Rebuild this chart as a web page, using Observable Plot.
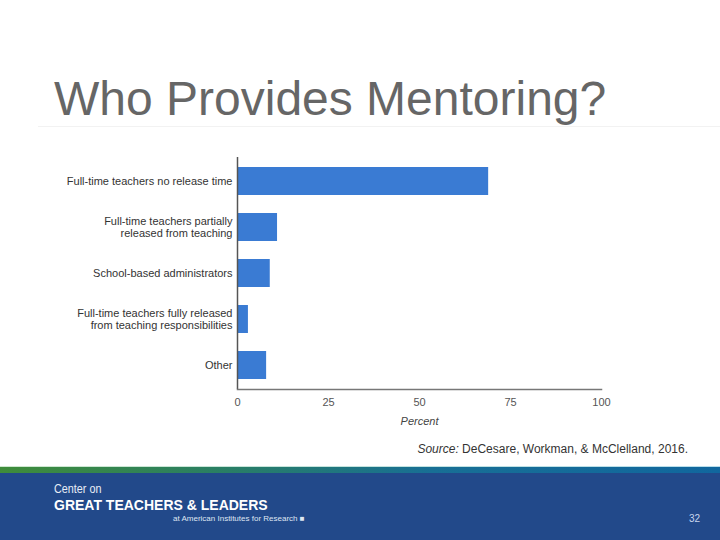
<!DOCTYPE html>
<html>
<head>
<meta charset="utf-8">
<script src="https://cdn.jsdelivr.net/npm/d3@7"></script>
<script src="https://cdn.jsdelivr.net/npm/@observablehq/plot@0.6"></script>
<style>
  html, body { margin: 0; padding: 0; background: #fff; }
  #slide { position: relative; width: 720px; height: 540px; overflow: hidden; font-family: "Liberation Sans", Arial, sans-serif; }
  #title { position: absolute; left: 54px; top: 75px; font-size: 48px; color: #666; white-space: nowrap; line-height: 1; }
  #rule { position: absolute; left: 38px; top: 126px; width: 682px; height: 1px; background: #f2f2f2; }
  #chart { position: absolute; left: 0; top: 140px; }
  #source { position: absolute; right: 32px; top: 442px; font-size: 12px; color: #333; white-space: nowrap; }
  #footer { position: absolute; left: 0; top: 466px; width: 720px; height: 74px; background: #22498a; }
  #pale { position: absolute; left: 0; top: 0; width: 720px; height: 1px; background: linear-gradient(to right, #cfe8cf, #b9deec); }
  #strip { position: absolute; left: 0; top: 1px; width: 720px; height: 6px; background: linear-gradient(to right, #3f8c3a 0%, #2a7f63 30%, #186f95 60%, #11679e 100%); }
  #center { position: absolute; left: 54px; top: 16px; font-size: 12px; color: #e8edf6; transform: scaleX(0.9); transform-origin: left; }
  #gtl { position: absolute; left: 54px; top: 31px; font-size: 14px; font-weight: bold; color: #fff; white-space: nowrap; }
  #air { position: absolute; left: 173px; top: 48px; font-size: 8px; color: #dfe6f2; white-space: nowrap; }
  #page { position: absolute; left: 689px; top: 47px; font-size: 10px; color: #c9d6ee; }
</style>
</head>
<body>
<div id="slide">
  <div id="title">Who Provides Mentoring?</div>
  <div id="rule"></div>
  <div id="chart"></div>
  <div id="source"><i>Source:</i> DeCesare, Workman, &amp; McClelland, 2016.</div>
  <div id="footer">
    <div id="pale"></div>
    <div id="strip"></div>
    <div id="center">Center on</div>
    <div id="gtl">GREAT TEACHERS &amp; LEADERS</div>
    <div id="air">at American Institutes for Research &#9632;</div>
    <div id="page">32</div>
  </div>
</div>
<script>
const categories = [
  "Full-time teachers no release time",
  "Full-time teachers partially\nreleased from teaching",
  "School-based administrators",
  "Full-time teachers fully released\nfrom teaching responsibilities",
  "Other"
];
const values = [69, 11, 9, 3, 8];
const xTicks = [0, 25, 50, 75, 100];
const xLabel = "Percent";

const data = categories.map((c, i) => ({category: c, value: values[i]}));

const plot = Plot.plot({
  width: 720,
  height: 300,
  marginLeft: 237,
  marginRight: 119,
  marginTop: 17,
  marginBottom: 51,
  style: {fontFamily: "'Liberation Sans', Arial, sans-serif", fontSize: "11px", color: "#333", background: "transparent"},
  x: {domain: [0, 100]},
  y: {domain: categories, paddingInner: 0.39, paddingOuter: 0.19},
  marks: [
    Plot.barX(data, {x: "value", y: "category", fill: "#3a7bd3"}),
    Plot.axisY({tickSize: 0, tickPadding: 5, label: null, fill: "#333", lineHeight: 1.05}),
    Plot.axisX({ticks: xTicks, tickSize: 0, tickPadding: 9, label: null, fill: "#555"}),
    Plot.text([xLabel], {frameAnchor: "bottom", dy: 35, fontStyle: "italic", fill: "#444", fontSize: 11}),
    Plot.ruleX([0], {stroke: "#555", strokeWidth: 1.5}),
    Plot.frame({anchor: "bottom", stroke: "#777", strokeWidth: 1.5})
  ]
});
document.getElementById("chart").appendChild(plot);
</script>
</body>
</html>
